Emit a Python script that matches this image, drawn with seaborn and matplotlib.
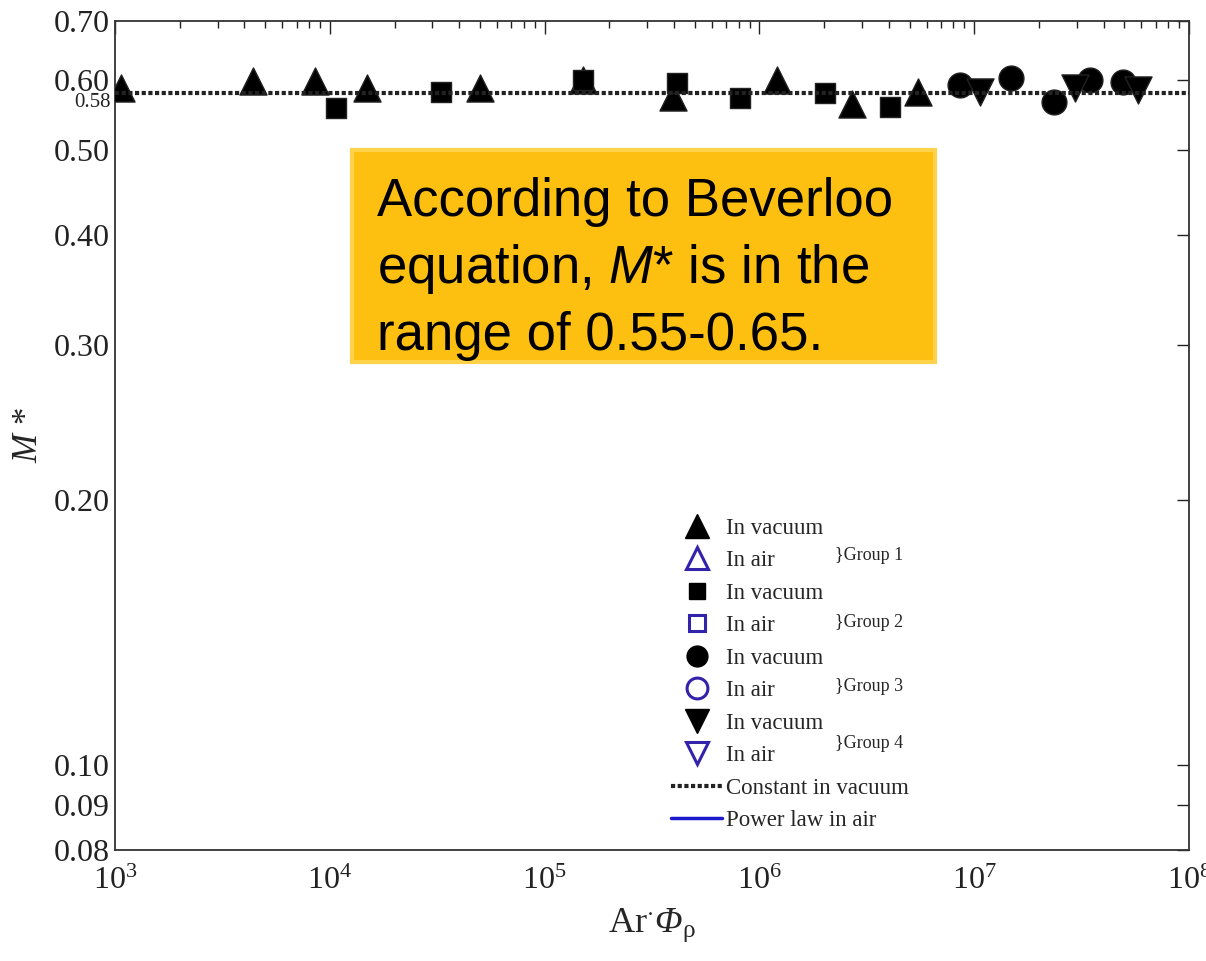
import seaborn as sns
import matplotlib.pyplot as plt
from matplotlib import ticker
from matplotlib.lines import Line2D
from matplotlib.patches import Rectangle

g1_x = [1070, 4390, 8530, 14900, 50000, 151000, 396000, 1210000, 2700000, 5470000]
g1_y = [0.587, 0.598, 0.598, 0.587, 0.587, 0.600, 0.574, 0.600, 0.564, 0.581]
g2_x = [10700, 33000, 151000, 413000, 813000, 2020000, 4060000]
g2_y = [0.557, 0.581, 0.600, 0.595, 0.572, 0.580, 0.559]
g3_x = [8600000, 14800000, 23500000, 34600000, 49300000]
g3_y = [0.592, 0.603, 0.566, 0.600, 0.597]
g4_x = [10600000, 29400000, 57900000]
g4_y = [0.581, 0.587, 0.584]
const_x = [1e3, 1e8]
const_y = [0.58, 0.58]

y_ticks = [0.08, 0.09, 0.10, 0.20, 0.30, 0.40, 0.50, 0.60, 0.70]
y_labels = ['0.08', '0.09', '0.10', '0.20', '0.30', '0.40', '0.50', '0.60', '0.70']
x_ticks = [1e3, 1e4, 1e5, 1e6, 1e7, 1e8]
x_labels = [r'$\mathrm{10^{%d}}$' % e for e in range(3, 9)]

sns.set_style('white')
plt.rcParams['font.family'] = ['Liberation Serif', 'DejaVu Serif']
plt.rcParams['mathtext.fontset'] = 'custom'
plt.rcParams['mathtext.rm'] = 'Liberation Serif'
plt.rcParams['mathtext.it'] = 'Liberation Serif:italic'
plt.rcParams['mathtext.cal'] = 'Liberation Serif:italic'
plt.rcParams['mathtext.sf'] = 'Liberation Sans:italic'

fig = plt.figure(figsize=(12.06, 9.61), dpi=100)
ax = fig.add_axes([0.0954, 0.1155, 0.8906, 0.8626])

blue = '#3322aa'
sns.scatterplot(x=g1_x, y=g1_y, marker='^', s=380, color='black', edgecolor='#222222', linewidth=1, ax=ax, zorder=3)
sns.scatterplot(x=g2_x, y=g2_y, marker='s', s=220, color='black', edgecolor='#222222', linewidth=1, ax=ax, zorder=3)
sns.scatterplot(x=g3_x, y=g3_y, marker='o', s=320, color='black', edgecolor='#222222', linewidth=1, ax=ax, zorder=3)
sns.scatterplot(x=g4_x, y=g4_y, marker='v', s=380, color='black', edgecolor='#222222', linewidth=1, ax=ax, zorder=3)
sns.lineplot(x=const_x, y=const_y, color='#222222', linestyle=(0, (1, 0.6)), linewidth=3, ax=ax, zorder=4)

ax.set_xscale('log')
ax.set_yscale('log')
ax.set_xlim(1e3, 1e8)
ax.set_ylim(0.08, 0.70)
ax.yaxis.set_major_locator(ticker.FixedLocator(y_ticks))
ax.yaxis.set_major_formatter(ticker.FixedFormatter(y_labels))
ax.yaxis.set_minor_locator(ticker.NullLocator())
ax.xaxis.set_major_locator(ticker.FixedLocator(x_ticks))
ax.xaxis.set_major_formatter(ticker.FixedFormatter(x_labels))
ax.xaxis.set_minor_locator(ticker.LogLocator(base=10, subs=range(2, 10)))
ax.xaxis.set_minor_formatter(ticker.NullFormatter())
ax.tick_params(which='both', direction='in', top=True, right=True, colors='#222222')
ax.tick_params(which='major', length=9, width=1, labelsize=23, pad=4)
ax.tick_params(axis='x', which='major', pad=12)
ax.tick_params(which='minor', length=5, width=1)
for s in ax.spines.values():
    s.set_color('#333333')
    s.set_linewidth(1.3)

ax.text(-0.004, 0.565, '0.58', transform=ax.get_yaxis_transform(), ha='right', va='center',
        fontsize=15, color='#222222')

ax.set_xlabel('Ar$^{\\cdot}\\mathcal{Φ}_{\\mathrm{ρ}}$', fontsize=26, labelpad=8)
ax.set_ylabel(r'$\mathit{M}$ *', fontsize=25, labelpad=6)

# orange note box
ax.add_patch(Rectangle((0.2207, 0.5887), 0.5428, 0.2557, transform=ax.transAxes,
                       facecolor='#FDBF10', edgecolor='#FFD24A', linewidth=3, zorder=2))
ax.text(0.244, 0.701, 'According to Beverloo\nequation, $\\mathsf{M}$* is in the\nrange of 0.55-0.65.',
        transform=ax.transAxes, ha='left', va='center', fontsize=38, family='Liberation Sans',
        linespacing=1.37, color='black', zorder=3)

handles = [
    Line2D([], [], marker='^', color='black', linestyle='none', markersize=17),
    Line2D([], [], marker='^', markerfacecolor='none', markeredgecolor=blue, markeredgewidth=2.2, linestyle='none', markersize=16),
    Line2D([], [], marker='s', color='black', linestyle='none', markersize=12),
    Line2D([], [], marker='s', markerfacecolor='none', markeredgecolor=blue, markeredgewidth=2.2, linestyle='none', markersize=12),
    Line2D([], [], marker='o', color='black', linestyle='none', markersize=15),
    Line2D([], [], marker='o', markerfacecolor='none', markeredgecolor=blue, markeredgewidth=2.2, linestyle='none', markersize=15),
    Line2D([], [], marker='v', color='black', linestyle='none', markersize=17),
    Line2D([], [], marker='v', markerfacecolor='none', markeredgecolor=blue, markeredgewidth=2.2, linestyle='none', markersize=16),
    Line2D([], [], color='#222222', linestyle=(0, (1, 0.6)), linewidth=3),
    Line2D([], [], color='#1a1acc', linewidth=2.5),
]
labels = ['In vacuum', 'In air'] * 4 + ['Constant in vacuum', 'Power law in air']
ax.legend(handles, labels, loc='upper left', bbox_to_anchor=(0.518, 0.401), frameon=False,
          fontsize=16.5, handlelength=2.2, handletextpad=0.2, labelspacing=0.5,
          borderpad=0, borderaxespad=0)

for gy, name in zip([0.355, 0.275, 0.197, 0.128], ['Group 1', 'Group 2', 'Group 3', 'Group 4']):
    ax.text(0.670, gy, '}' + name, transform=ax.transAxes, ha='left', va='center', fontsize=13)

fig.savefig('out.png', dpi=100)
